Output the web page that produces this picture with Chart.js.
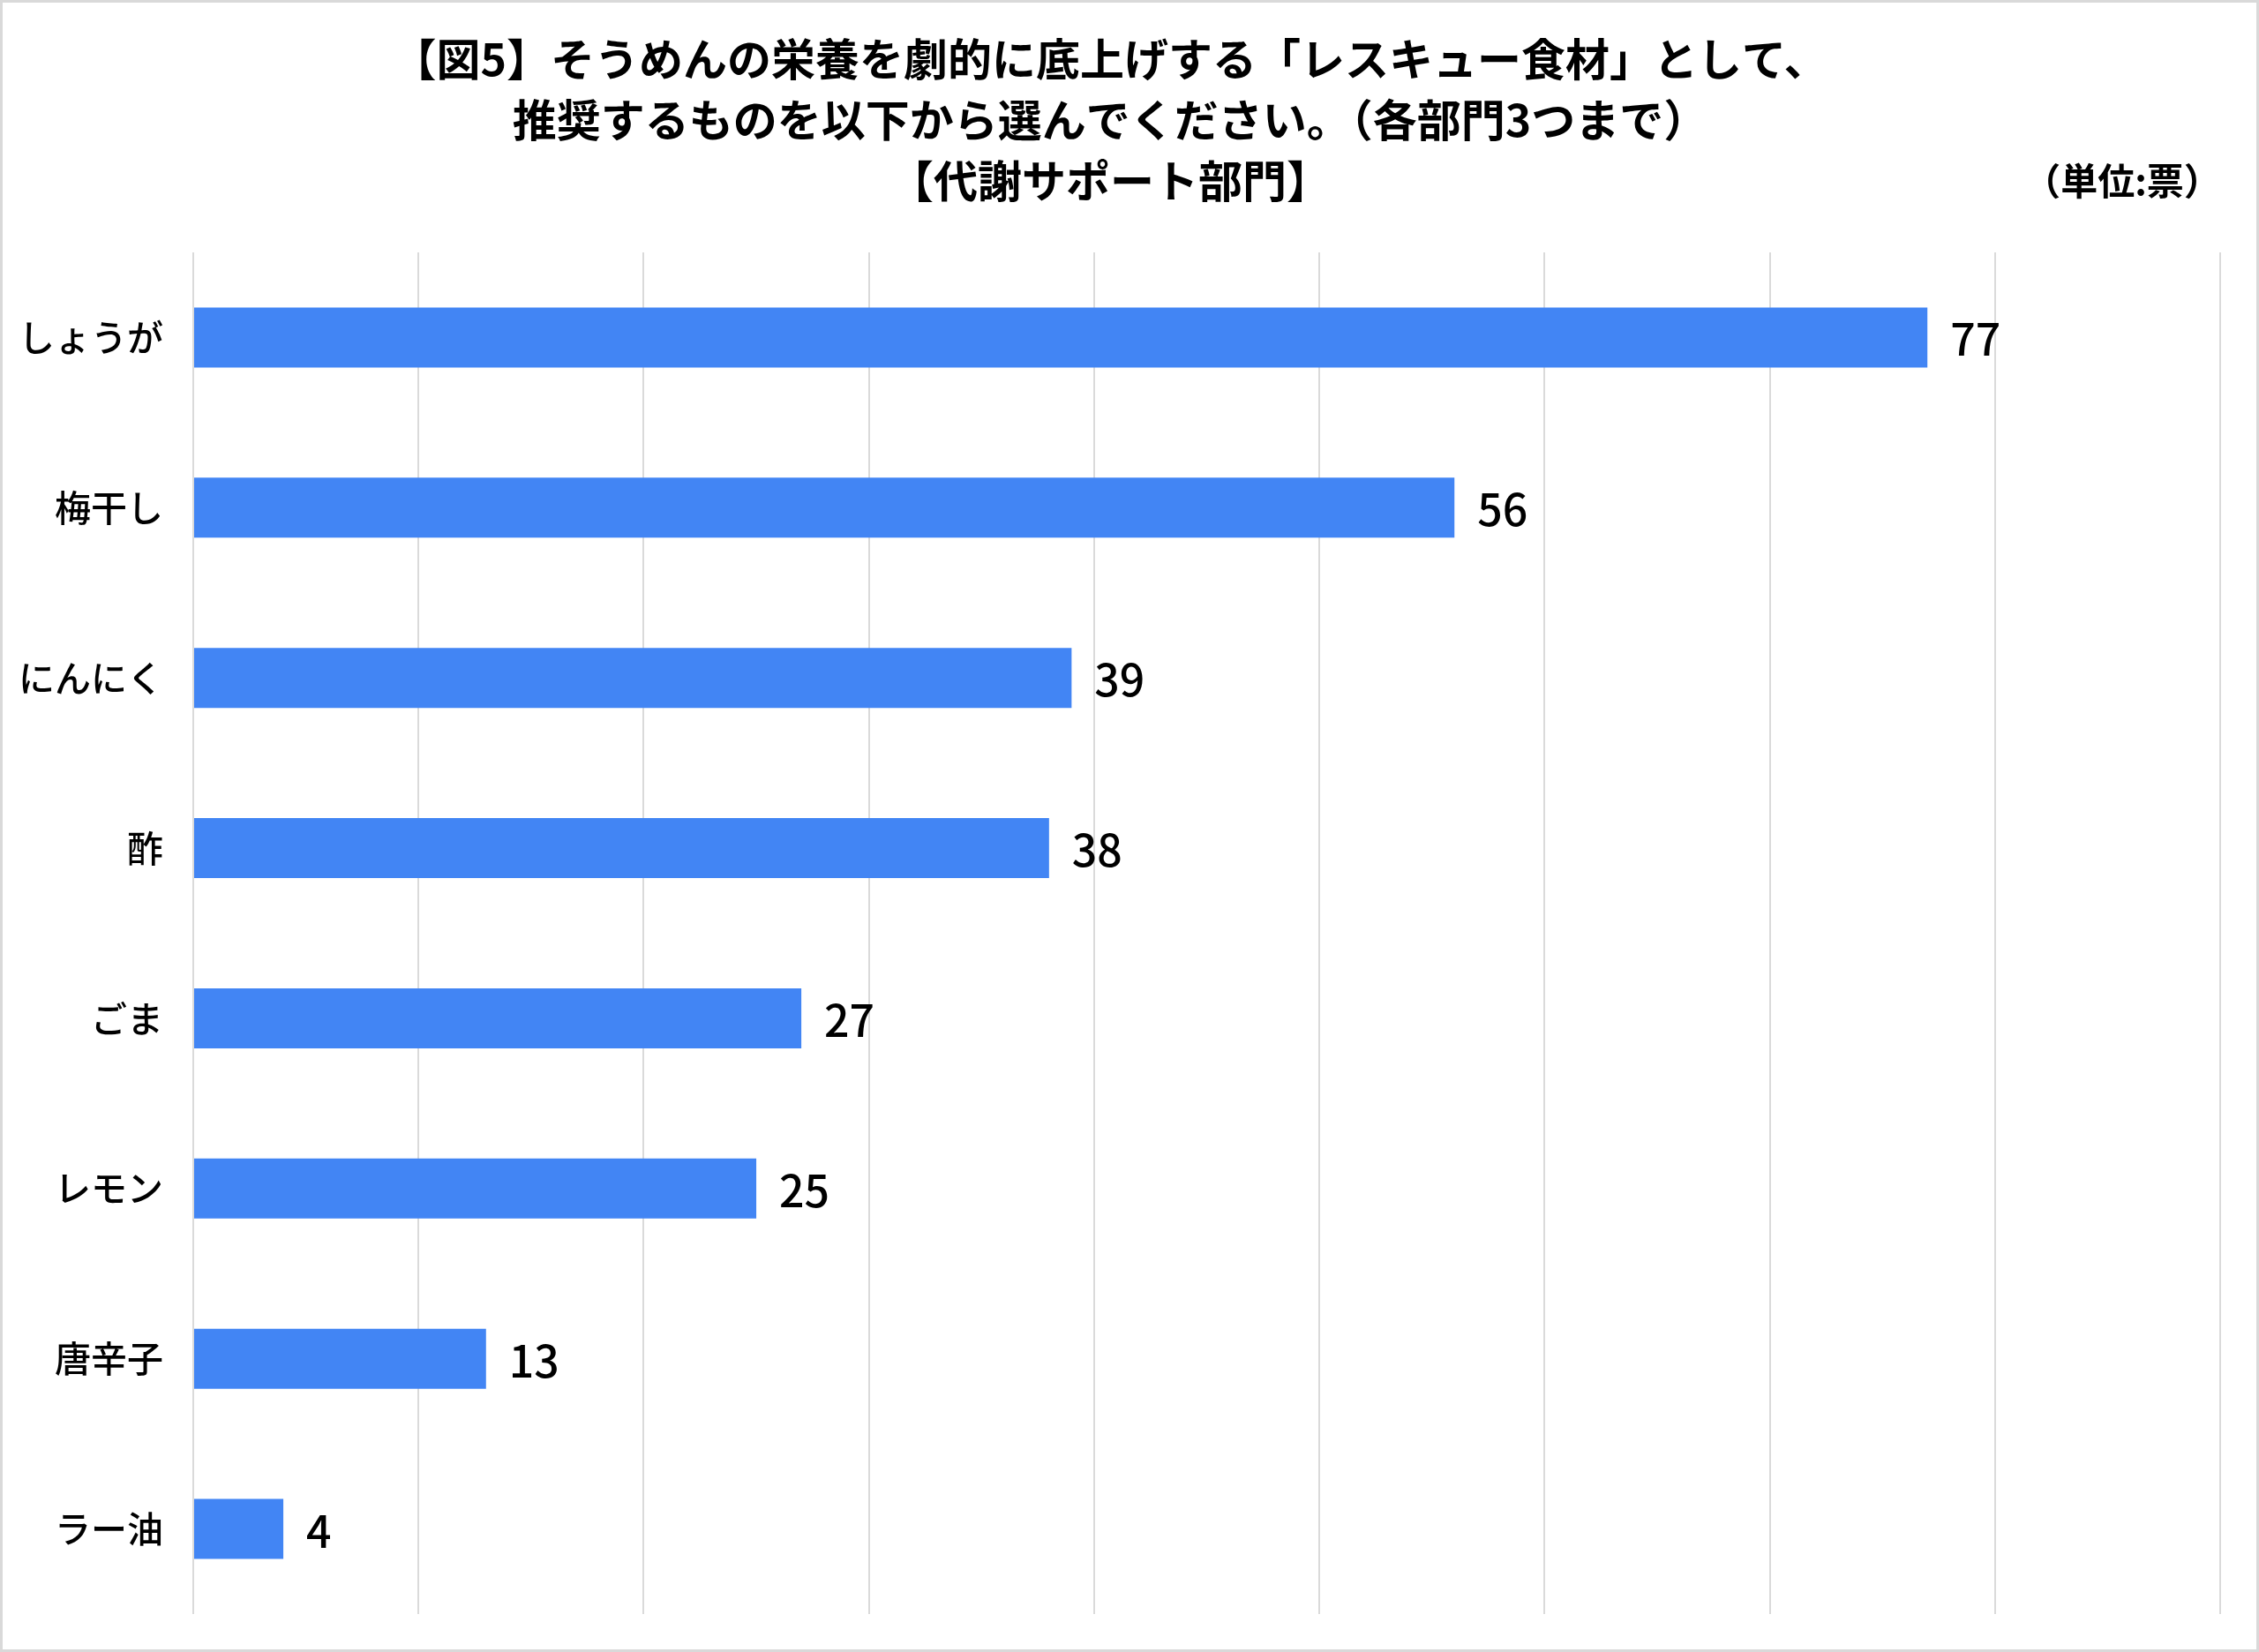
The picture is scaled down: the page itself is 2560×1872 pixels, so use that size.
<!DOCTYPE html>
<html lang="ja">
<head>
<meta charset="utf-8">
<title>代謝サポート部門</title>
<script src="https://cdn.jsdelivr.net/npm/chart.js@4/dist/chart.umd.min.js"></script>
<style>
  html, body { margin: 0; padding: 0; background: #fff; }
  #wrap { width: 2560px; height: 1872px; }
</style>
</head>
<body>
<div id="wrap"><canvas id="chart" width="2560" height="1872"></canvas></div>
<script>
// Vote counts
const titleLines = [
  '【図5】そうめんの栄養を劇的に底上げする「レスキュー食材」として、',
  '推奨するものを以下から選んでください。（各部門3つまで）',
  '【代謝サポート部門】',
];
const unitLabel = '（単位:票）';
const foods = ['しょうが', '梅干し', 'にんにく', '酢', 'ごま', 'レモン', '唐辛子', 'ラー油'];
const votes = [77, 56, 39, 38, 27, 25, 13, 4];

const FONT = "'Noto Sans CJK JP', 'Noto Sans', sans-serif";

// white background + thin frame around the picture
const framePlugin = {
  id: 'frame',
  beforeDraw(chart) {
    const { ctx, width, height } = chart;
    ctx.save();
    ctx.fillStyle = '#fff';
    ctx.fillRect(0, 0, width, height);
    ctx.strokeStyle = '#d9d9d9';
    ctx.lineWidth = 3;
    ctx.strokeRect(1.5, 1.5, width - 3, height - 3);
    ctx.restore();
  },
};

// value at the end of each bar, plus the unit note on the right
const labelPlugin = {
  id: 'barLabels',
  afterDatasetsDraw(chart) {
    const { ctx } = chart;
    const meta = chart.getDatasetMeta(0);
    ctx.save();
    ctx.fillStyle = '#000';
    ctx.font = `500 50px ${FONT}`;
    ctx.textAlign = 'left';
    ctx.textBaseline = 'middle';
    meta.data.forEach((bar, i) => {
      ctx.fillText(String(votes[i]), bar.x + 26, bar.y + 2);
    });
    ctx.font = `bold 42px ${FONT}`;
    ctx.textAlign = 'center';
    ctx.fillText(unitLabel, 2405, 205);
    ctx.restore();
  },
};

const config = {
  type: 'bar',
  data: {
    labels: foods,
    datasets: [
      {
        data: votes,
        backgroundColor: '#4285f4',
        borderWidth: 0,
        barPercentage: 0.352,
        categoryPercentage: 1,
      },
    ],
  },
  options: {
    indexAxis: 'y',
    responsive: false,
    animation: false,
    devicePixelRatio: 1,
    layout: {
      padding: { top: 0, right: 44, bottom: 43, left: 0 },
    },
    scales: {
      x: {
        min: 0,
        max: 90,
        ticks: { display: false, stepSize: 10 },
        border: { display: false },
        grid: { color: '#dadada', lineWidth: 2, drawTicks: false },
      },
      y: {
        grid: { display: false },
        border: { display: false },
        ticks: {
          color: '#000',
          padding: 26,
          font: { family: FONT, size: 41, weight: '500' },
        },
        afterFit(scale) {
          scale.width = 219;
          // labels sit mid-category, so no edge overflow to reserve
          scale.paddingTop = 0;
          scale.paddingBottom = 0;
        },
      },
    },
    plugins: {
      legend: { display: false },
      tooltip: { enabled: false },
      title: {
        display: true,
        text: titleLines,
        color: '#000',
        font: { family: FONT, size: 50, weight: 'bold', lineHeight: 1.38 },
        padding: { top: 32, bottom: 47 },
      },
    },
  },
  plugins: [framePlugin, labelPlugin],
};

new Chart(document.getElementById('chart'), config);
</script>
</body>
</html>
